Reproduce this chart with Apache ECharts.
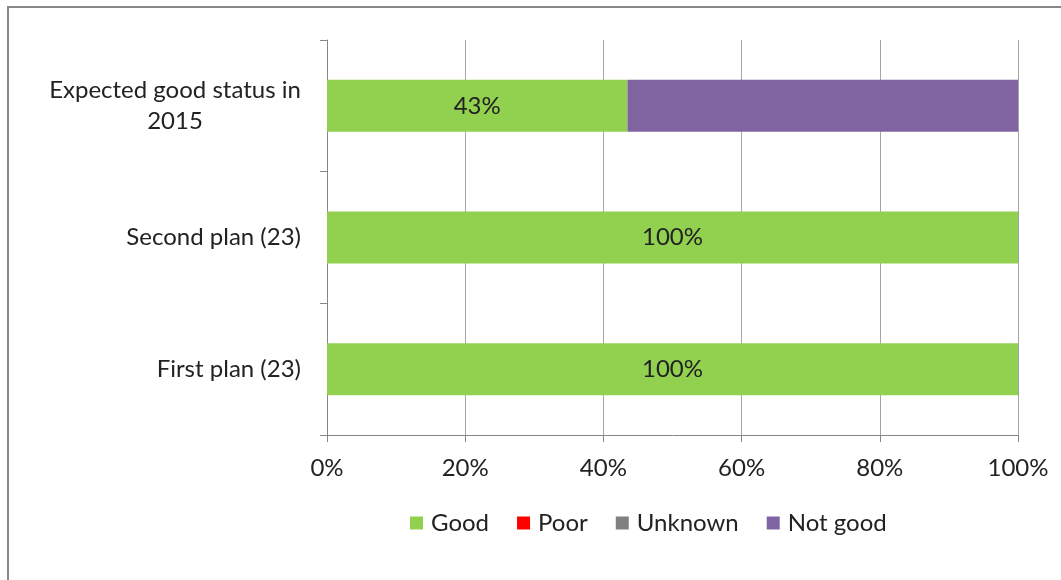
<!DOCTYPE html>
<html><head><meta charset="utf-8">
<script src="https://cdn.jsdelivr.net/npm/echarts@6/dist/echarts.min.js"></script>
<style>html,body{margin:0;padding:0;background:#fff}#c{width:1061px;height:580px}</style>
</head><body><div id="c"></div>
<script>
const categories = ['First plan (23)', 'Second plan (23)', 'Expected good status in\n2015'];
const good = [100, 100, 43.48];
const poor = [0, 0, 0];
const unknown = [0, 0, 0];
const notGood = [0, 0, 56.52];
const xTicks = [0, 20, 40, 60, 80, 100];

const FONT = 'Lato';
const FS = 24;
const chart = echarts.init(document.getElementById('c'));
const mk = (name, data, color, label) => ({
  name, type: 'bar', stack: 's', data, barWidth: 52,
  itemStyle: { color },
  label: label ? { show: true, position: 'inside', color: '#222', fontSize: FS, fontFamily: FONT,
    formatter: p => p.value > 0 ? Math.round(p.value) + '%' : '' } : { show: false }
});
chart.setOption({
  animation: false,
  textStyle: { fontFamily: FONT },
  graphic: [{ type: 'rect', shape: { x: 8, y: 7, width: 1100, height: 600 },
    style: { fill: 'none', stroke: '#888', lineWidth: 2 } }],
  grid: { left: 327, right: 43, top: 40, bottom: 145 },
  legend: {
    top: 506, left: 405, itemWidth: 13, itemHeight: 13, itemGap: 28,
    icon: 'rect', textStyle: { fontSize: FS, color: '#222', fontFamily: FONT, padding: [0, 0, 0, 3] },
    data: ['Good', 'Poor', 'Unknown', 'Not good']
  },
  xAxis: {
    type: 'value', min: xTicks[0], max: xTicks[xTicks.length - 1], interval: 20,
    axisLine: { show: true, lineStyle: { color: '#868686' } },
    axisTick: { show: true, length: 7, lineStyle: { color: '#868686' } },
    splitLine: { show: true, lineStyle: { color: '#a6a6a6', width: 1 } },
    axisLabel: { formatter: '{value}%', fontSize: FS, color: '#222', margin: 21, fontFamily: FONT }
  },
  yAxis: {
    type: 'category', data: categories,
    axisLine: { show: true, lineStyle: { color: '#868686' } },
    axisTick: { show: true, length: 7, lineStyle: { color: '#868686' } },
    axisLabel: { margin: 26, align: 'right',
      formatter: v => {
        const parts = v.split('\n');
        return parts.length > 1 ? parts.map(s => '{c|' + s + '}').join('\n') : '{a|' + v + '}';
      },
      rich: {
        a: { fontSize: FS, color: '#222', fontFamily: FONT, lineHeight: 30 },
        c: { fontSize: FS, color: '#222', fontFamily: FONT, lineHeight: 31, width: 252, align: 'center' }
      }
    },
  },
  series: [
    mk('Good', good, '#92d050', true),
    mk('Poor', poor, '#ff0000', false),
    mk('Unknown', unknown, '#808080', false),
    mk('Not good', notGood, '#8064a2', false)
  ]
});
</script></body></html>
